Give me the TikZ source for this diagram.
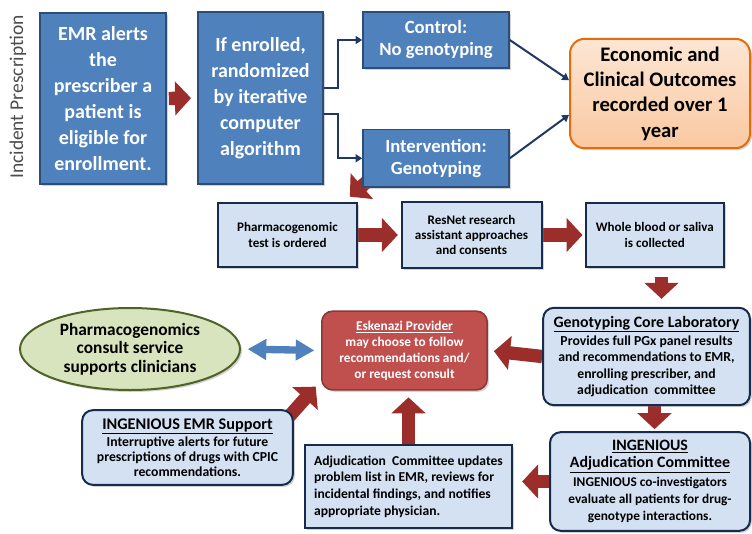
\documentclass[tikz,border=0pt]{standalone}
\usepackage{fontspec}
\setmainfont{Carlito}
\usetikzlibrary{
    arrows.meta,
    backgrounds,
    positioning,
    shadows,
    shapes.geometric
}
\definecolor{boxblue}{RGB}{79,129,189}
\definecolor{boxblueline}{RGB}{44,77,117}
\definecolor{paleblue}{RGB}{212,225,242}
\definecolor{paleline}{RGB}{23,43,75}
\definecolor{arrowred}{RGB}{155,45,42}
\definecolor{eskred}{RGB}{192,80,77}
\definecolor{eskline}{RGB}{140,56,54}
\definecolor{consultgreen}{RGB}{215,228,189}
\definecolor{consultline}{RGB}{79,98,40}
\definecolor{outcomefill}{RGB}{250,200,160}
\definecolor{outcomeline}{RGB}{228,108,10}
\definecolor{linknavy}{RGB}{31,56,100}
\newcommand{\fsz}[2]{\fontsize{#1}{#2}\selectfont}
\tikzset{
    boxshadow/.style = {
        drop shadow = {shadow xshift = 1.5pt, shadow yshift = -1.5pt, opacity = 0.35}
    },
    bluebox/.style = {
        draw = boxblueline, line width = 1.2pt, fill = boxblue,
        text = white, align = center, inner sep = 2pt, boxshadow
    },
    palebox/.style = {
        draw = paleline, line width = 1.5pt, fill = paleblue,
        align = center, inner sep = 2pt, boxshadow
    },
    roundbox/.style = {palebox, rounded corners = 8pt},
    redarrow/.style = {
        draw = arrowred, line width = 10pt,
        -{Triangle[length = 12pt, width = 25pt]}
    },
    bluearrow/.style = {
        draw = boxblue, line width = 5.5pt,
        {Triangle[length = 14pt, width = 15pt]}-{Triangle[length = 14pt, width = 15pt]}
    },
    navylink/.style = {
        draw = linknavy, line width = 1.5pt,
        -{Triangle[length = 5pt, width = 6pt]}
    }
}

\begin{document}
\begin{tikzpicture}[x = 0.75pt, y = -0.75pt]
    \useasboundingbox (0,0) rectangle (752,533);

    % top row
    \node[rotate = 90, text = black!70, font = \fsz{14.6}{16}] (incident) at (18,97) {Incident Prescription};
    \node[bluebox, minimum width = 94.5pt, minimum height = 128pt, font = \fsz{15}{19.5}\bfseries] (emr) at (103,98.5)
        {EMR alerts\\ the\\ prescriber a\\ patient is\\ eligible for\\ enrollment.};
    \node[bluebox, minimum width = 94pt, minimum height = 129pt, font = \fsz{15}{19.5}\bfseries] (rand) at (260.5,98)
        {If enrolled,\\ randomized\\ by iterative\\ computer\\ algorithm};
    \node[bluebox, minimum width = 109.5pt, minimum height = 42pt, font = \fsz{14}{16.5}\bfseries] (ctrl) at (436,40)
        {Control:\\ No genotyping};
    \node[bluebox, minimum width = 109.5pt, minimum height = 43pt, font = \fsz{14}{16.5}\bfseries] (intv) [below = 45pt of ctrl]
        {Intervention:\\ Genotyping};
    \node[draw = outcomeline, line width = 1.5pt, top color = outcomefill!45!white, bottom color = outcomefill,
          rounded corners = 11pt, boxshadow, align = center,
          minimum width = 135pt, minimum height = 82pt, font = \fsz{15.5}{19}\bfseries] (outc) at (660,93.5)
        {Economic and\\ Clinical Outcomes\\ recorded over 1\\ year};

    % genotyping arm
    \node[palebox, minimum width = 104pt, minimum height = 48pt, font = \fsz{9.8}{11.5}\bfseries] (pgx) at (287.5,235)
        {Pharmacogenomic\\ test is ordered};
    \node[palebox, minimum width = 105pt, minimum height = 49pt, font = \fsz{9.8}{11.5}\bfseries] (resnet) [right = 32pt of pgx]
        {ResNet research\\ assistant approaches\\ and consents};
    \node[palebox, minimum width = 103pt, minimum height = 48pt, font = \fsz{9.8}{11.5}\bfseries] (blood) [right = 32pt of resnet]
        {Whole blood or saliva\\ is collected};

    % results and follow-up
    \node[ellipse, draw = consultline, line width = 1.5pt, fill = consultgreen, boxshadow, align = center, inner sep = 0pt,
          minimum width = 165pt, minimum height = 61.5pt, font = \fsz{13}{14}\bfseries] (consult) at (130,349)
        {Pharmacogenomics\\ consult service\\ supports clinicians};
    \node[draw = eskline, line width = 1.2pt, fill = eskred, text = white, rounded corners = 8pt, boxshadow, align = center,
          minimum width = 124pt, minimum height = 59pt, font = \fsz{10}{12}\bfseries] (esk) at (404.5,350.5)
        {\underline{Eskenazi Provider}\\ may choose to follow\\ recommendations and/\\ or request consult};
    \node[roundbox, minimum width = 155pt, minimum height = 73pt, font = \fsz{10.3}{12.4}\bfseries] (geno) at (646.5,356.5)
        {{\fsz{11.9}{13}\underline{Genotyping Core Laboratory}}\\[1pt] Provides full PGx panel results\\ and recommendations to EMR,\\
         enrolling prescriber, and\\ adjudication~~committee};
    \node[roundbox, minimum width = 150pt, minimum height = 74pt, font = \fsz{10}{13}\bfseries] (adjcom) at (650,481.5)
        {{\fsz{11.9}{13}\underline{INGENIOUS}}\\ {\fsz{11.9}{13}\underline{Adjudication Committee}}\\[1pt]
         INGENIOUS co-investigators\\ evaluate all patients for drug-\\ genotype interactions.};
    \node[palebox, align = left, minimum width = 155pt, minimum height = 62pt, font = \fsz{10.2}{12.4}\bfseries] (update) at (408.5,486.5)
        {Adjudication~~Committee updates\\ problem list in EMR, reviews for\\ incidental findings, and notifies\\
         appropriate physician.};
    \node[roundbox, minimum width = 158pt, minimum height = 56pt, font = \fsz{10.3}{11.3}\bfseries] (emrsup) at (187.5,447.5)
        {{\fsz{12.2}{13}\underline{INGENIOUS EMR Support}}\\[1.5pt] Interruptive alerts for future\\
         prescriptions of drugs with CPIC\\ recommendations.};

    % connectors
    \draw[navylink] ([yshift = 7.5pt]rand.east) -- ++(14,0) |- (ctrl.west);
    \draw[navylink] ([yshift = -12pt]rand.east) -- ++(14,0) |- (intv.west);
    \draw[navylink] (ctrl.east) -- ([yshift = 10pt]outc.west);
    \draw[navylink] (intv.east) -- ([yshift = -16pt]outc.west);

    \begin{scope}[on background layer]
        \draw[redarrow, shorten <= 1.5pt, shorten >= 4.5pt] (emr.east) -- (rand.west);
        \draw[redarrow] ([xshift = 7pt, yshift = 7.5pt]intv.south west) -- ([xshift = -6pt, yshift = 4pt]pgx.north east);
        \draw[redarrow, shorten >= 2pt] (pgx.east) -- (resnet.west);
        \draw[redarrow, shorten >= 2pt] (resnet.east) -- (blood.west);
        \draw[redarrow, shorten <= 7pt, shorten >= 6pt] ([xshift = 5pt]blood.south) -- ([xshift = 5pt]blood.south |- geno.north);
        \draw[redarrow, shorten >= 4.5pt] (geno.west) -- (esk.east);
        \draw[redarrow, shorten >= 1.5pt] ([xshift = 6pt]geno.south) -- ([xshift = 6pt]geno.south |- adjcom.north);
        \draw[redarrow, shorten >= 7pt] (adjcom.west) -- (adjcom.west -| update.east);
        \draw[redarrow, shorten >= 5pt] (update.north) -- (update.north |- esk.south);
        \draw[redarrow] ([xshift = -4pt, yshift = -6pt]emrsup.north east) -- ([xshift = -4pt, yshift = 3pt]esk.south west);
    \end{scope}
    \draw[bluearrow, shorten <= 5pt, shorten >= 5pt] (consult.east) -- (esk.west);
\end{tikzpicture}
\end{document}
